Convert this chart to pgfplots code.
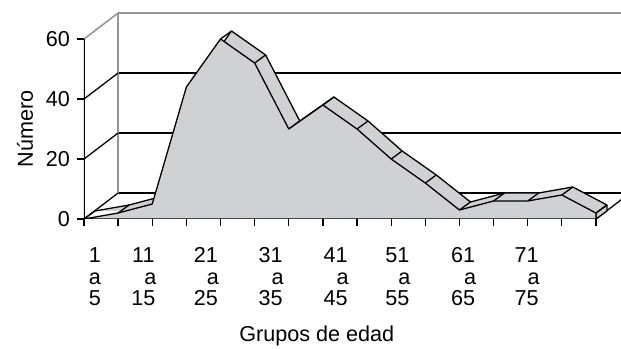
\documentclass[border=0pt]{standalone}
\usepackage{pgfplots}
\pgfplotsset{compat=1.18}
\usepackage{pgfplotstable}
\usepackage{fontspec}
\setmainfont{Liberation Sans}
\definecolor{areagray}{RGB}{208,209,211}
\definecolor{wallgray}{RGB}{150,150,150}
\pgfplotstableread{
x y
0 0
1 2
2 5
3 44
4 60
5 52
6 30
7 38
8 30
9 20
10 12
11 3
12 6
13 6
14 8
15 2
}\datatable
\newcommand{\lf}{\fontsize{10.8pt}{12pt}\selectfont}
\newcommand{\lbl}[3]{\vtop{\baselineskip=10.7pt\lineskiplimit=-20pt\halign{\hfil##\hfil\cr#1\cr#2\cr#3\cr}}}
\begin{document}
\begin{tikzpicture}
\useasboundingbox (0,0) rectangle (310.5pt,174pt);
\begin{axis}[
  at={(42pt,64.5pt)}, anchor=south west,
  scale only axis, x=17.065pt, y=1.5pt,
  xmin=0, xmax=15.73, ymin=0, ymax=73,
  axis x line*=bottom, axis y line*=left,
  axis line style={draw=none},
  tick align=outside, major tick length=3.5pt,
  tick style={black, line width=0.65pt},
  xtick={0,...,15}, xticklabels={,,,,,,,,,,,,,,,},
  ytick={0,20,40,60},
  /pgf/number format/assume math mode=true,
  tick label style={font=\lf},
  label style={font=\lf},
  extra x ticks={0.32,1.74,3.57,5.47,7.37,9.18,11.11,12.97},
  extra x tick labels={{\lbl{1}{a}{5}},{\lbl{11}{\kern7pt a}{15}},{\lbl{21}{\kern7pt a}{25}},{\lbl{31}{\kern7pt a}{35}},{\lbl{41}{\kern7pt a}{45}},{\lbl{51}{\kern7pt a}{55}},{\lbl{61}{\kern7pt a}{65}},{\lbl{71}{\kern7pt a}{75}}},
  extra x tick style={major tick length=0pt, tick label style={anchor=base, yshift=-22pt}},
  ylabel={Número},
  ylabel style={at={(axis description cs:-0.11,0.411)}, anchor=center},
  xlabel={Grupos de edad},
  xlabel style={at={(axis description cs:0.4335,-0.5525)}, anchor=base, yshift=-1pt},
]
% walls and floor
\addplot[black, line width=0.65pt] coordinates {(1,8.667) (16,8.667)};
\addplot[black, line width=0.65pt] coordinates {(1,28.667) (16,28.667)};
\addplot[black, line width=0.65pt] coordinates {(1,48.667) (16,48.667)};
\addplot[wallgray, line width=0.8pt] coordinates {(1,68.667) (16,68.667)};
\addplot[wallgray, line width=0.8pt] coordinates {(1,8.667) (1,68.667)};
\addplot[black, line width=0.65pt] coordinates {(0,0) (1,8.667)};
\addplot[black, line width=0.65pt] coordinates {(0,20) (1,28.667)};
\addplot[black, line width=0.65pt] coordinates {(0,40) (1,48.667)};
\addplot[wallgray, line width=0.8pt] coordinates {(0,60) (1,68.667)};
\addplot[black, line width=0.65pt] coordinates {(15,0) (16,8.667)};
% back of the series
\addplot[fill=areagray, draw=none, xshift=5.5pt, yshift=4pt] table[x=x, y=y] {\datatable} \closedcycle;
\addplot[fill=areagray, draw=black, line width=0.65pt, line join=round] coordinates {(15,0) (15,2) (15.3223,4.667) (15.3223,2.667)} -- cycle;
\addplot[black, line width=0.65pt, line join=round, xshift=5.5pt, yshift=4pt] table[x=x, y=y] {\datatable};
\addplot[black, line width=0.65pt, quiver={u=0.3223, v=2.667}, mark=none] table[x=x, y=y] {\datatable};
% front face
\addplot[fill=areagray, draw=black, line width=0.65pt, line join=round] table[x=x, y=y] {\datatable} \closedcycle;
% y axis line
\addplot[black, line width=0.65pt] coordinates {(0,0) (0,60)};
\end{axis}
\end{tikzpicture}
\end{document}
